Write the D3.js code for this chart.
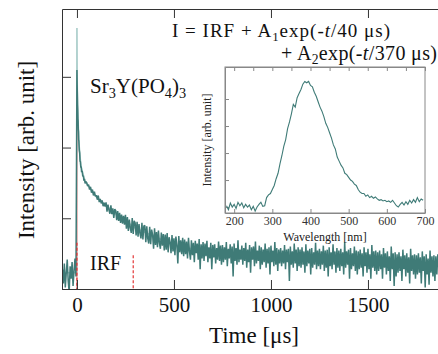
<!DOCTYPE html>
<html>
<head>
<meta charset="utf-8">
<script src="https://cdn.jsdelivr.net/npm/d3@7"></script>
<style>
  body { margin: 0; background: #fff; }
  svg { display: block; font-family: "Liberation Serif", "Times New Roman", serif; }
</style>
</head>
<body>
<div id="chart"></div>
<script>
// ---- data ----
// background before the excitation pulse, every 5 us from -75 us
const preStart = -75;
const preCounts = [1.9, 1.2, 2.3, 1.05, 1.7, 2.6, 1.3, 0.9, 2.1, 1.4, 2.4, 1.1, 1.8, 2.7, 1.5];

// fast part right after the pulse
const earlyTimes = [0, 1, 2, 3, 4, 5, 6, 7, 8, 9, 10, 12, 14, 16, 18, 20, 22, 24, 27, 30, 33, 36, 39, 42, 45];
const earlyCounts = [1250, 780, 590, 400, 345, 255, 236, 180, 168, 128, 124, 92, 84, 64, 63, 52, 54, 45, 47, 39, 40, 34, 36, 31, 33];

// slow tail, every 5 us from 50 us
const tailStart = 50;
const tailCounts = [
  32, 28.5, 30, 25.5, 27.8, 23, 25.5, 21, 23.8, 20.4, 21.2, 18.3, 21, 16.9, 18.8, 16.2, 17.9, 14.8, 16.6, 14.6,
  16.8, 12.4, 15.6, 13.1, 11.6, 15.2, 11.4, 13.8, 10.1, 13.5, 12.8, 9.4, 12.6, 9.2, 11.9, 8.6, 11.3, 8.4, 10.8, 8.1,
  11.2, 7.1, 10.4, 6.6, 9.6, 7.3, 6.2, 10.1, 6.0, 9.2, 8.6, 5.7, 8.9, 5.5, 8.3, 6.1, 5.2, 8.6, 5.0, 7.8,
  7.9, 4.6, 7.7, 5.2, 4.4, 7.6, 4.3, 6.9, 5.8, 3.7, 7.2, 4.2, 6.4, 3.9, 6.7, 4.5, 3.7, 6.3, 4.1, 6.0,
  3.5, 5.9, 3.6, 6.2, 3.3, 5.4, 4.6, 3.2, 5.8, 3.4, 5.2, 3.0, 5.5, 4.2, 2.3, 5.6, 3.3, 4.9, 3.1, 5.3,
  2.9, 5.0, 3.1, 4.7, 2.7, 5.3, 3.4, 2.6, 4.9, 3.0, 4.5, 2.4, 4.8, 3.2, 4.4, 2.6, 5.1, 1.9, 4.3, 2.7,
  4.6, 2.5, 4.4, 2.9, 4.8, 2.4, 3.9, 2.7, 4.5, 1.9, 4.2, 2.8, 4.3, 2.3, 3.8, 2.6, 4.7, 2.5, 4.1, 2.2,
  4.2, 2.4, 3.9, 2.6, 4.6, 2.1, 3.7, 2.7, 4.3, 2.3, 4.0, 1.5, 4.4, 2.5, 3.8, 2.2, 4.9, 2.4, 3.6, 2.6,
  4.1, 2.2, 3.8, 2.5, 4.5, 2.0, 3.6, 2.4, 4.2, 1.7, 3.9, 2.6, 4.0, 2.1, 4.7, 2.3, 3.5, 2.5, 4.1, 1.9,
  3.9, 2.2, 3.6, 2.4, 4.4, 2.0, 3.7, 2.3, 3.9, 1.6, 4.1, 2.4, 3.5, 2.1, 4.6, 2.2, 3.8, 1.8, 3.6, 2.3,
  3.8, 2.1, 3.5, 2.3, 4.2, 1.9, 3.6, 2.4, 3.7, 1.3, 4.0, 2.2, 3.4, 2.0, 4.4, 2.3, 3.6, 1.8, 3.9, 2.1,
  3.6, 2.0, 3.9, 2.2, 3.4, 1.7, 4.3, 2.1, 3.5, 2.3, 3.7, 1.6, 3.8, 2.0, 3.3, 2.2, 4.5, 1.9, 3.5, 2.1,
  3.7, 1.9, 3.4, 2.2, 4.1, 1.8, 3.5, 2.0, 3.6, 1.5, 3.9, 2.1, 3.3, 1.9, 4.3, 2.2, 3.4, 1.7, 3.8, 2.0,
  3.5, 1.8, 3.7, 2.1, 3.3, 1.6, 4.6, 2.0, 3.4, 2.2, 3.6, 1.4, 3.8, 1.9, 3.2, 2.1, 4.0, 1.8, 3.5, 1.6,
  3.4, 1.9, 3.6, 2.0, 3.2, 1.5, 3.9, 2.1, 3.3, 1.7, 3.7, 1.9, 3.1, 1.4, 4.2, 2.0, 3.4, 1.8, 3.5, 1.6,
  3.3, 1.8, 3.5, 1.9, 3.1, 1.4, 3.8, 2.0, 3.2, 1.6, 3.4, 1.8, 2.9, 1.3, 4.0, 1.9, 3.2, 1.1, 3.3, 1.5,
  3.1, 1.7, 3.3, 1.8, 2.9, 1.3, 3.6, 1.9, 3.0, 1.5, 3.2, 1.7, 2.8, 1.2, 3.7, 1.8, 3.0, 1.6, 3.1, 1.4,
  3.0, 1.6, 3.2, 1.7, 2.8, 1.2, 3.4, 1.8, 2.9, 1.05, 3.1, 1.6, 2.7, 1.15, 3.5, 1.7, 2.9, 1.5, 3.0, 1.3,
  2.9, 1.6, 3.1
];

// fitted curve (light line)
const fitTimes = [-75, -1, 0, 1, 2, 4, 6, 10, 20, 40, 100, 200, 300, 500, 700, 1000, 1400, 1860];
const fitCounts = [1.7, 1.7, 4900, 1100, 600, 340, 235, 118, 56, 34, 20, 11.5, 7.3, 4.2, 3.2, 2.8, 2.55, 2.1];

// instrument response function
const irfTimes = [-1, 0, 1];
const irfCounts = [0.8, 224, 0.8];
// dashed markers of the fit window
const markerTimes = [0, 290];
const markerTops = [4.5, 3.0];

const xMajor = [0, 500, 1000, 1500];
const xMinor = d3.range(0, 1900, 100);

// inset: emission spectrum, every 5 nm from 180 nm
const specStart = 180;
const specValues = [
  0.01, -0.02, 0.03, 0.00, 0.02, -0.01, 0.035, 0.01, 0.03, -0.005, 0.02, 0.00, 0.015, -0.02, 0.005, -0.03,
  0.00, 0.02, 0.035, 0.005, 0.01, 0.07, 0.09, 0.10, 0.13, 0.16, 0.21, 0.25, 0.32, 0.38, 0.45, 0.50,
  0.58, 0.63, 0.69, 0.76, 0.74, 0.81, 0.84, 0.87, 0.91, 0.93, 0.92, 0.93, 0.90, 0.89, 0.85, 0.82,
  0.78, 0.74, 0.71, 0.67, 0.62, 0.59, 0.55, 0.51, 0.46, 0.43, 0.37, 0.34, 0.31, 0.29, 0.25, 0.24,
  0.22, 0.20, 0.19, 0.17, 0.16, 0.13, 0.11, 0.10, 0.10, 0.08, 0.09, 0.07, 0.08, 0.065, 0.075, 0.06,
  0.05, 0.055, 0.045, 0.05, 0.04, 0.045, 0.035, 0.05, 0.03, 0.01, 0.00, 0.02, 0.035, 0.015, 0.04, 0.02,
  0.05, 0.03, 0.055, 0.035, 0.07, 0.04, 0.06, 0.05
];
const specTicks = [200, 300, 400, 500, 600, 700];
const specMinor = d3.range(200, 701, 50);
const specYTicks = [0, 0.2, 0.4, 0.6, 0.8];

// ---- layout ----
const W = 438, H = 354;
const plot = { left: 62, top: 9, right: 438, bottom: 289 };
const ins = { left: 225, top: 67, right: 425, bottom: 213 };
const TEAL = "#3f7b77", TEAL_LIGHT = "#a8ccc9", AXIS = "#333";

const svg = d3.select("#chart").append("svg").attr("width", W).attr("height", H);

const x = d3.scaleLinear().domain([-77, 1861]).range([plot.left, plot.right]);
const y = d3.scaleLog().domain([1, 9100]).range([plot.bottom, plot.top]);

svg.append("defs").append("clipPath").attr("id", "clip")
  .append("rect").attr("x", plot.left).attr("y", plot.top)
  .attr("width", plot.right - plot.left).attr("height", plot.bottom - plot.top);

const series = [];
preCounts.forEach((v, i) => series.push({ t: preStart + i * 5, v }));
earlyTimes.forEach((t, i) => series.push({ t, v: earlyCounts[i] }));
tailCounts.forEach((v, i) => series.push({ t: tailStart + i * 5, v }));

const line = d3.line().x(d => x(d.t)).y(d => y(Math.max(d.v, 0.3)));
const g = svg.append("g").attr("clip-path", "url(#clip)");

g.append("path")
  .datum(fitTimes.map((t, i) => ({ t, v: fitCounts[i] })))
  .attr("d", line).attr("fill", "none").attr("stroke", TEAL_LIGHT).attr("stroke-width", 1.6);

g.append("path")
  .datum(irfTimes.map((t, i) => ({ t, v: irfCounts[i] })))
  .attr("d", line).attr("fill", "none").attr("stroke", "#f3aaaa").attr("stroke-width", 1.3);

g.append("path").datum(series).attr("d", line)
  .attr("fill", "none").attr("stroke", TEAL).attr("stroke-width", 1.5)
  .attr("stroke-linejoin", "bevel");

g.selectAll("line.marker").data(markerTimes).enter().append("line")
  .attr("class", "marker")
  .attr("x1", d => x(d)).attr("x2", d => x(d))
  .attr("y1", (d, i) => y(markerTops[i])).attr("y2", y(1))
  .attr("stroke", "#e02424").attr("stroke-width", 1.1).attr("stroke-dasharray", "3,2");

// ---- main axes ----
function styleAxis(sel) {
  sel.attr("font-family", null);
  sel.selectAll("path, line").attr("stroke", AXIS);
  sel.selectAll("text").attr("fill", "#111");
}
const xAxisBottom = svg.append("g").attr("transform", `translate(0,${plot.bottom})`);
xAxisBottom.call(d3.axisBottom(x).tickValues(xMinor).tickSize(-5).tickSizeOuter(0).tickFormat(""));
xAxisBottom.call(d3.axisBottom(x).tickValues(xMajor).tickSize(-9).tickSizeOuter(0).tickPadding(8)
  .tickFormat(d3.format("d")));
xAxisBottom.attr("font-size", 21);
styleAxis(xAxisBottom);

const xAxisTop = svg.append("g").attr("transform", `translate(0,${plot.top})`);
xAxisTop.call(d3.axisTop(x).tickValues(xMinor).tickSize(-5).tickSizeOuter(0).tickFormat(""));
xAxisTop.call(d3.axisTop(x).tickValues(xMajor).tickSize(-9).tickSizeOuter(0).tickFormat(""));
styleAxis(xAxisTop);

const yMajor = [1, 10, 100, 1000];
const yMinor = [];
yMajor.forEach(d => d3.range(2, 10).forEach(k => { if (d * k <= 9100) yMinor.push(d * k); }));
const yAxisLeft = svg.append("g").attr("transform", `translate(${plot.left},0)`);
yAxisLeft.call(d3.axisLeft(y).tickValues(yMinor).tickSize(-5).tickSizeOuter(0).tickFormat(""));
yAxisLeft.call(d3.axisLeft(y).tickValues(yMajor).tickSize(-9).tickSizeOuter(0).tickFormat(""));
styleAxis(yAxisLeft);

svg.append("text").attr("x", 254).attr("y", 343).attr("text-anchor", "middle")
  .attr("font-size", 23).attr("fill", "#111").text("Time [μs]");
svg.append("text").attr("transform", "translate(34,150) rotate(-90)").attr("text-anchor", "middle")
  .attr("font-size", 23).attr("fill", "#111").text("Intensity [arb. unit]");

// ---- annotations ----
function richText(xp, yp, size, parts) {
  const t = svg.append("text").attr("x", xp).attr("y", yp).attr("font-size", size).attr("fill", "#111");
  parts.forEach(p => {
    const s = t.append("tspan").text(p.s);
    if (p.sub) s.attr("font-size", size * 0.68).attr("dy", size * 0.22);
    if (p.up) s.attr("dy", -size * 0.22);
    if (p.it) s.attr("font-style", "italic");
  });
  return t;
}
richText(90, 93, 21, [
  { s: "Sr" }, { s: "3", sub: true }, { s: "Y(PO", up: true }, { s: "4", sub: true },
  { s: ")", up: true }, { s: "3", sub: true }
]);
richText(172, 37, 19, [
  { s: "I = IRF + A" }, { s: "1", sub: true }, { s: "exp(-", up: true }, { s: "t", it: true }, { s: "/40 μs)" }
]).attr("textLength", 218).attr("lengthAdjust", "spacing");
richText(281, 60, 20, [
  { s: "+ A" }, { s: "2", sub: true }, { s: "exp(-", up: true }, { s: "t", it: true }, { s: "/370 μs)" }
]).attr("textLength", 156).attr("lengthAdjust", "spacing");
svg.append("text").attr("x", 90).attr("y", 270).attr("font-size", 20).attr("fill", "#111").text("IRF");

// ---- inset ----
const ix = d3.scaleLinear().domain([176, 700]).range([ins.left, ins.right]);
const iy = d3.scaleLinear().domain([-0.044, 1.037]).range([ins.bottom, ins.top]);
const INSET_AXIS = "#888";

svg.append("rect").attr("x", ins.left).attr("y", ins.top)
  .attr("width", ins.right - ins.left).attr("height", ins.bottom - ins.top)
  .attr("fill", "#fff").attr("stroke", INSET_AXIS).attr("stroke-width", 1);

function styleInset(sel) {
  sel.attr("font-family", null);
  sel.selectAll("path, line").attr("stroke", INSET_AXIS);
  sel.selectAll("text").attr("fill", "#333");
}
const insetBottom = svg.append("g").attr("transform", `translate(0,${ins.bottom})`);
insetBottom.call(d3.axisBottom(ix).tickValues(specMinor).tickSize(-3).tickSizeOuter(0).tickFormat(""));
insetBottom.call(d3.axisBottom(ix).tickValues(specTicks).tickSize(-4).tickSizeOuter(0).tickPadding(3));
insetBottom.attr("font-size", 12);
styleInset(insetBottom);
const insetTop = svg.append("g").attr("transform", `translate(0,${ins.top})`);
insetTop.call(d3.axisTop(ix).tickValues(specMinor).tickSize(-4).tickSizeOuter(0).tickFormat(""));
styleInset(insetTop);
const insetLeft = svg.append("g").attr("transform", `translate(${ins.left},0)`);
insetLeft.call(d3.axisLeft(iy).tickValues(specYTicks).tickSize(-4).tickSizeOuter(0).tickFormat(""));
styleInset(insetLeft);

svg.append("path")
  .datum(specValues.map((v, i) => ({ w: specStart + i * 5, v })))
  .attr("d", d3.line().x(d => ix(d.w)).y(d => iy(d.v)))
  .attr("fill", "none").attr("stroke", TEAL).attr("stroke-width", 1.1);

svg.append("text").attr("x", 325).attr("y", 241).attr("text-anchor", "middle")
  .attr("font-size", 12).attr("fill", "#222").text("Wavelength [nm]");
svg.append("text").attr("transform", "translate(211,140) rotate(-90)").attr("text-anchor", "middle")
  .attr("font-size", 12).attr("fill", "#222").text("Intensity [arb. unit]");
</script>
</body>
</html>
